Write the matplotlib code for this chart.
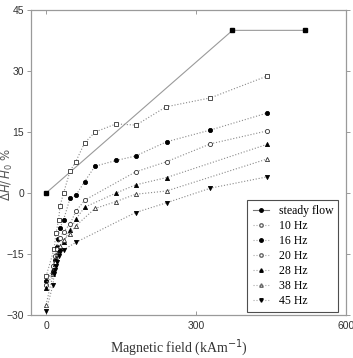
import matplotlib
matplotlib.use("Agg")
import matplotlib.pyplot as plt
from matplotlib.lines import Line2D

# ---- data ----
steady_x = [0, 373, 518]
steady_y = [0, 40, 40]

hz10_x = [0, 16, 20, 25, 28, 35, 48, 59, 77, 98, 140, 180, 240, 329, 443]
hz10_y = [-20.5, -13.8, -9.8, -6.6, -3.2, 0, 5.4, 7.6, 12.3, 15, 17, 16.7, 21.2, 23.4, 28.8]

hz16_x = [0, 14, 16, 18, 21, 24, 28, 35, 48, 60, 77, 98, 140, 179, 241, 329, 443]
hz16_y = [-21.6, -19.2, -18, -16.5, -13.2, -11.4, -8.5, -6.6, -1.3, -0.5, 2.8, 6.6, 8.0, 9.1, 12.6, 15.5, 19.7]

hz20_x = [0, 14, 17, 21, 28, 35, 48, 60, 78, 179, 241, 329, 443]
hz20_y = [-22.6, -18, -15.5, -13.8, -11, -9.5, -7.6, -4.4, -1.7, 5.2, 7.7, 12.1, 15.3]

hz28_x = [0, 14, 17, 20, 24, 28, 35, 48, 60, 77, 140, 179, 241, 443]
hz28_y = [-23.4, -19.5, -17.5, -16, -14.5, -13.5, -12, -9, -6.4, -3.5, 0, 2.0, 3.8, 12.0]

hz38_x = [0, 14, 18, 22, 28, 35, 48, 60, 98, 140, 179, 241, 443]
hz38_y = [-27.5, -20, -17, -15, -13, -11.5, -10, -8, -3.8, -2.1, -0.3, 0.5, 8.4]

hz45_x = [0, 14, 16, 18, 20, 22, 25, 28, 35, 60, 179, 241, 329, 443]
hz45_y = [-29, -22.5, -20, -19, -18, -17, -15.5, -14.5, -14, -12.1, -4.8, -2.4, 1.2, 4.0]

labels = ["steady flow", "10 Hz", "16 Hz", "20 Hz", "28 Hz", "38 Hz", "45 Hz"]
x_ticks = [0, 300, 600]
y_ticks = [-30, -15, 0, 15, 30, 45]

# ---- plot ----
fig = plt.figure(figsize=(3.53, 3.58), dpi=100)
ax = fig.add_axes([0.088, 0.120, 0.892, 0.852])

lc = "#8a8a8a"
ms = 3
ax.plot(steady_x, steady_y, '-', color="#9a9a9a", lw=0.8, marker='s', ms=ms,
        mfc='black', mec='black')
series = [
    (hz10_x, hz10_y, 's', 'white'),
    (hz16_x, hz16_y, 'o', 'black'),
    (hz20_x, hz20_y, 'o', 'white'),
    (hz28_x, hz28_y, '^', 'black'),
    (hz38_x, hz38_y, '^', 'white'),
    (hz45_x, hz45_y, 'v', 'black'),
]
for xs, ys, mk, fc in series:
    ax.plot(xs, ys, ':', color=lc, lw=0.8, marker=mk, ms=ms, mfc=fc,
            mec='#333333' if fc == 'white' else 'black', mew=0.6)

ax.set_xlim(-30, 600)
ax.set_ylim(-30, 45)
ax.set_xticks(x_ticks)
ax.set_yticks(y_ticks)
for s in ax.spines.values():
    s.set_color("#9a9a9a")
    s.set_linewidth(0.9)
ax.tick_params(axis='both', labelsize=7.5, colors="#9a9a9a", labelcolor="#333333",
               length=3, width=0.7)
ax.tick_params(axis='y', direction='out', right=True, pad=2)
ax.tick_params(axis='x', direction='in', top=True, pad=4)
for t in ax.get_xticklabels() + ax.get_yticklabels():
    t.set_family("Liberation Sans")

ax.set_xlabel("Magnetic field (kAm$^{-1}$)", family="Liberation Serif",
              fontsize=10, color="#333333")
ax.xaxis.set_label_coords(0.47, -0.072)
ax.set_ylabel(r"$\Delta H/\,H_0$ %", fontsize=8.5, color="#555555")
ax.yaxis.set_label_coords(-0.05, 0.46)

handles = [
    Line2D([], [], ls='-', color='#777777', lw=0.8, marker='o', ms=2.5, mfc='black', mec='black'),
    Line2D([], [], ls=':', color='#aaaaaa', lw=0.8, marker='o', ms=2.5, mfc='white', mec='#666666'),
    Line2D([], [], ls=':', color='#aaaaaa', lw=0.8, marker='o', ms=2.5, mfc='black', mec='black'),
    Line2D([], [], ls=':', color='#aaaaaa', lw=0.8, marker='o', ms=2.5, mfc='white', mec='#666666'),
    Line2D([], [], ls=':', color='#aaaaaa', lw=0.8, marker='^', ms=2.5, mfc='black', mec='black'),
    Line2D([], [], ls=':', color='#aaaaaa', lw=0.8, marker='^', ms=2.5, mfc='white', mec='#666666'),
    Line2D([], [], ls=':', color='#aaaaaa', lw=0.8, marker='v', ms=2.5, mfc='black', mec='black'),
]
leg = ax.legend(handles, labels, loc='lower right', bbox_to_anchor=(0.995, -0.01),
                prop={'family': 'Liberation Serif', 'size': 8.5}, frameon=True,
                fancybox=False, edgecolor='#222222', handlelength=1.4,
                labelspacing=0.25, borderpad=0.45, handletextpad=0.8)
leg.get_frame().set_linewidth(0.8)

fig.savefig("out.png", dpi=100)
